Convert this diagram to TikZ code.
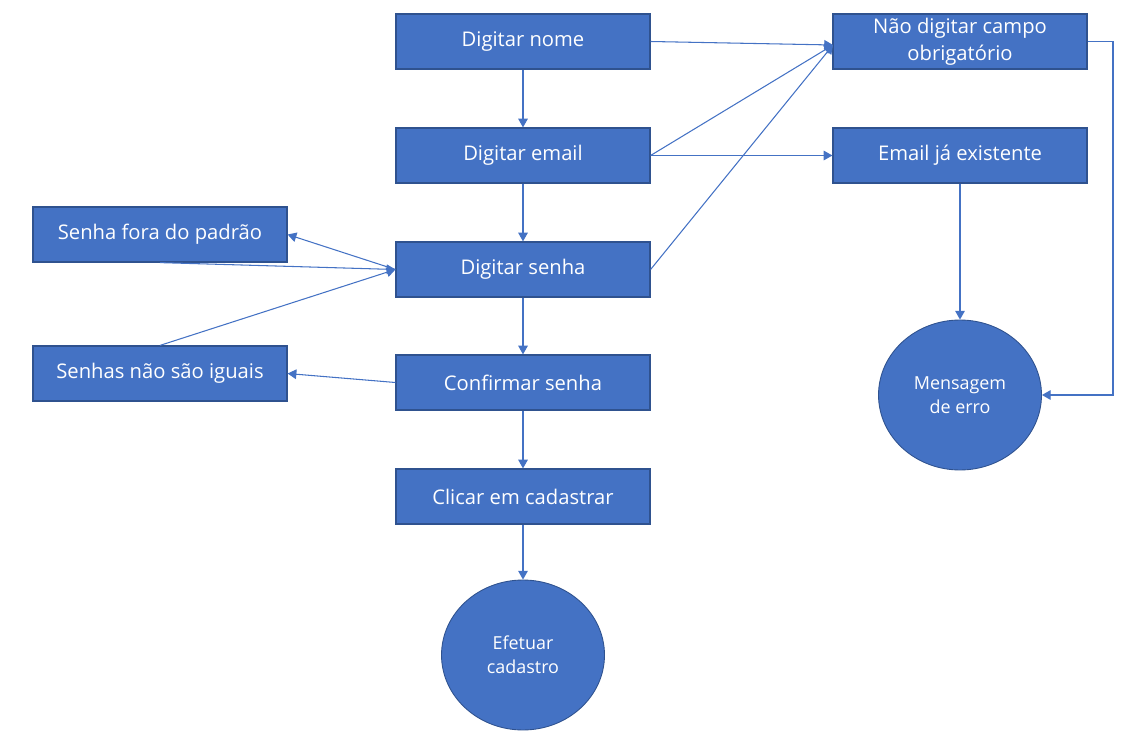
\documentclass[tikz,border=0pt]{standalone}
\usepackage{fontspec}
\setmainfont{Open Sans}
\usetikzlibrary{arrows.meta,shapes.geometric}
\definecolor{boxblue}{HTML}{4472C4}
\definecolor{edgeblue}{HTML}{2F528F}
\begin{document}
\begin{tikzpicture}[x=0.02cm, y=-0.02cm,
    passo/.style={rectangle, fill=boxblue, draw=edgeblue, line width=0.7pt, minimum width=5.08cm, minimum height=1.1cm, inner sep=0pt, text=white, font=\fontsize{11.5}{15.3}\selectfont, align=center},
    fim/.style={ellipse, fill=boxblue, draw=edgeblue, line width=0.5pt, minimum width=3.26cm, minimum height=3cm, inner sep=0pt, text=white, font=\fontsize{10.2}{13.6}\selectfont, align=center},
    seta/.style={draw=boxblue, line width=0.6pt, -{Triangle[length=5pt, width=5.5pt]}}]
  \useasboundingbox (0,0) rectangle (1143,750);
  % fluxo principal
  \node[passo] (nome) at (523,41.5) {Digitar nome};
  \node[passo] (email) at (523,155.5) {Digitar email};
  \node[passo] (senha) at (523,269.5) {Digitar senha};
  \node[passo] (confirmar) at (523,382.5) {Confirmar senha};
  \node[passo] (clicar) at (523,496.5) {Clicar em cadastrar};
  \node[fim] (efetuar) at (523,655) {Efetuar\\cadastro};
  % erros
  \node[passo] (campo) at (960,41.5) {Não digitar campo\\obrigatório};
  \node[passo] (existe) at (960,155.5) {Email já existente};
  \node[fim] (erro) at (960,395) {Mensagem\\de erro};
  \node[passo] (fora) at (160,234.5) {Senha fora do padrão};
  \node[passo] (iguais) at (160,373.5) {Senhas não são iguais};
  \coordinate (alvo) at (833,45);
  \coordinate (canto1) at (1113,41.5);
  \coordinate (canto2) at (1113,395);

  \draw[seta] (nome) -- (email);
  \draw[seta] (email) -- (senha);
  \draw[seta] (senha) -- (confirmar);
  \draw[seta] (confirmar) -- (clicar);
  \draw[seta] (clicar) -- (efetuar);
  \draw[seta] (nome.east) -- (alvo);
  \draw[seta] (email.east) -- (alvo);
  \draw[seta] (senha.east) -- (alvo);
  \draw[seta] (email.east) -- (existe.west);
  \draw[seta] (campo.east) -- (canto1) -- (canto2) -- (erro.east);
  \draw[seta] (existe) -- (erro);
  \draw[seta] (senha.west) -- (fora.east);
  \draw[seta] (fora.south) -- (senha.west);
  \draw[seta] (iguais.north) -- (senha.west);
  \draw[seta] (confirmar.west) -- (iguais.east);
\end{tikzpicture}
\end{document}
